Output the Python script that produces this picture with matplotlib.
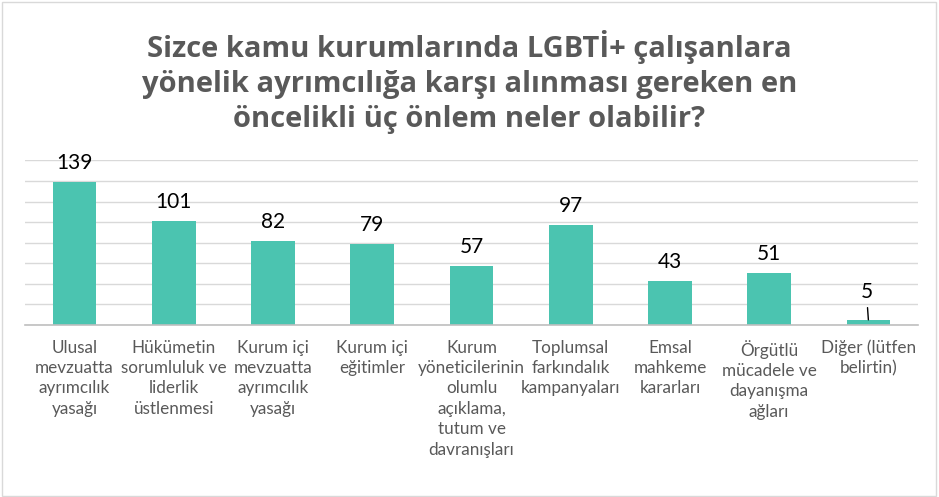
import matplotlib
matplotlib.use("Agg")
import matplotlib.pyplot as plt
from matplotlib.patches import Rectangle

categories = [
    "Ulusal\nmevzuatta\nayrımcılık\nyasağı",
    "Hükümetin\nsorumluluk ve\nliderlik\nüstlenmesi",
    "Kurum içi\nmevzuatta\nayrımcılık\nyasağı",
    "Kurum içi\neğitimler",
    "Kurum\nyöneticilerinin\nolumlu\naçıklama,\ntutum ve\ndavranışları",
    "Toplumsal\nfarkındalık\nkampanyaları",
    "Emsal\nmahkeme\nkararları",
    "Örgütlü\nmücadele ve\ndayanışma\nağları",
    "Diğer (lütfen\nbelirtin)",
]
values = [139, 101, 82, 79, 57, 97, 43, 51, 5]
title = "Sizce kamu kurumlarında LGBTİ+ çalışanlara\nyönelik ayrımcılığa karşı alınması gereken en\nöncelikli üç önlem neler olabilir?"

W, H = 939, 497
fig = plt.figure(figsize=(W / 100, H / 100), dpi=100)
fig.patch.set_facecolor("white")
fig.patches.append(Rectangle((2 / W, 1 / H), (W - 5) / W, (H - 3) / H, transform=fig.transFigure,
                             fill=False, edgecolor="#D9D9D9", linewidth=1.0))

ax = fig.add_axes([25 / W, (H - 325) / H, 893 / W, (325 - 160.4) / H])
x = list(range(len(values)))
ax.bar(x, values, width=0.44, color="#4BC4B0", zorder=3)
ax.set_xlim(-0.5, len(values) - 0.5)
ax.set_ylim(0, 160)
ax.set_yticks(range(0, 161, 20))
ax.yaxis.grid(True, color="#D9D9D9", linewidth=1.0, zorder=0)
ax.tick_params(axis="y", left=False, labelleft=False)
ax.tick_params(axis="x", bottom=False, pad=7)
for s in ["top", "right", "left"]:
    ax.spines[s].set_visible(False)
ax.spines["bottom"].set_color("#BFBFBF")
ax.spines["bottom"].set_linewidth(1.2)
ax.spines["bottom"].set_zorder(4)
ax.set_xticks(x)
ax.set_xticklabels(categories, fontsize=12.3, color="#595959", family="Lato", linespacing=1.34, va="top")

for xi, v in zip(x, values):
    if v < 10:
        ax.annotate(str(v), xy=(xi, v), xytext=(xi - 0.02, v + 27), ha="center", va="center",
                    fontsize=15, family="Lato", color="black",
                    arrowprops=dict(arrowstyle="-", color="black", lw=1.0, shrinkA=2, shrinkB=0))
    else:
        ax.text(xi, v + 18.5, str(v), ha="center", va="center", fontsize=15, family="Lato", color="black")

fig.text(0.5, (H - 82) / H, title, ha="center", va="center", fontsize=21, fontweight="bold",
         family="Open Sans", color="#595959", linespacing=1.29)

fig.savefig("out.png", dpi=100, facecolor="white")
